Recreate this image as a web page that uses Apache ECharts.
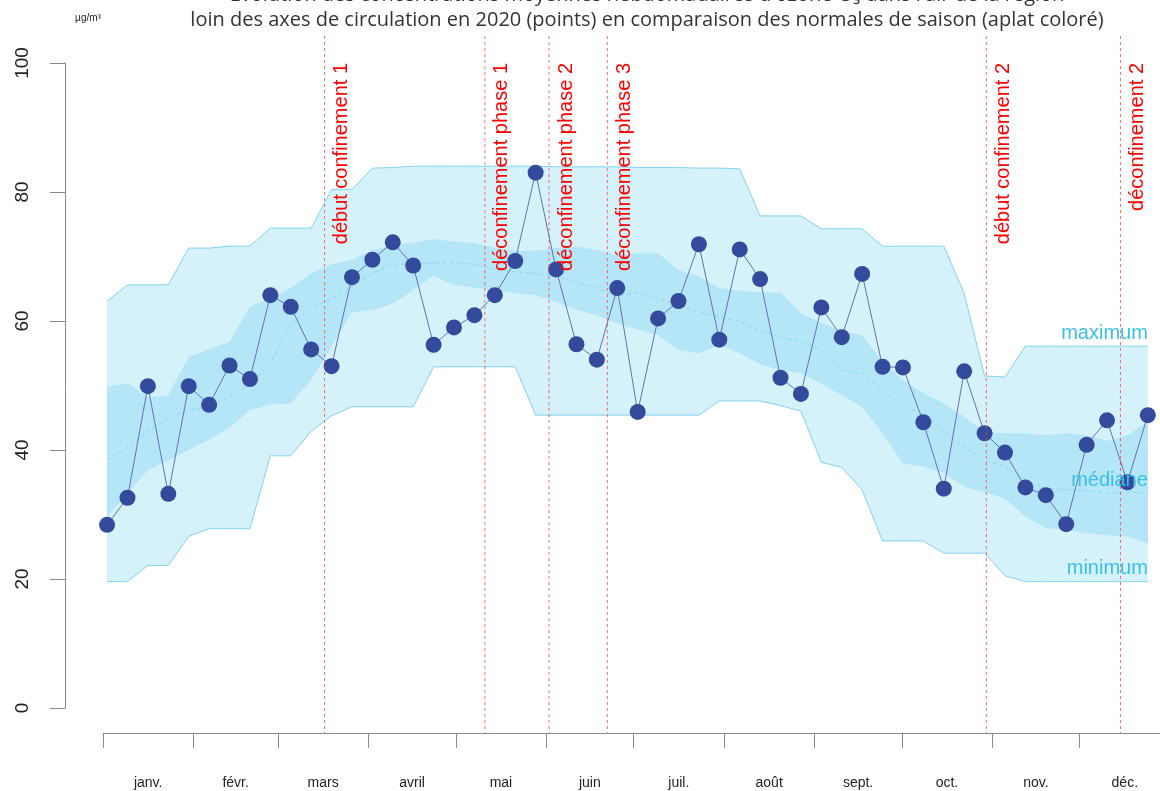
<!DOCTYPE html>
<html><head><meta charset="utf-8">
<script src="https://cdn.jsdelivr.net/npm/echarts@6/dist/echarts.min.js"></script>
<style>html,body{margin:0;padding:0;background:#fff}#c{width:1160px;height:791px}</style>
</head><body><div id="c"></div><script>
// ---------- data ----------
const titleLine1 = "Évolution des concentrations moyennes hebdomadaires d'ozone O₃ dans l'air de la région";
const titleLine2 = "loin des axes de circulation en 2020 (points) en comparaison des normales de saison (aplat coloré)";
const unitLabel = "µg/m³";
const monthNames = ["janv.","févr.","mars","avril","mai","juin","juil.","août","sept.","oct.","nov.","déc."];
const monthStartDays = [0,31,60,91,121,152,182,213,244,274,305,335,366];
const yTicks = [0,20,40,60,80,100];
const weekNumbers = [1,2,3,4,5,6,7,8,9,10,11,12,13,14,15,16,17,18,19,20,21,22,23,24,25,26,
  27,28,29,30,31,32,33,34,35,36,37,38,39,40,41,42,43,44,45,46,47,48,49,50,51,52];
const concentration2020 = [28.4,32.6,49.9,33.2,49.9,47.0,53.1,51.0,64.0,62.2,55.6,53.0,66.8,69.5,72.2,68.6,
  56.3,59.0,60.9,64.0,69.3,83.0,68.0,56.4,54.0,65.1,45.9,60.4,63.1,71.9,57.1,71.1,66.5,51.2,48.7,62.1,
  57.5,67.3,52.9,52.8,44.3,34.0,52.2,42.6,39.6,34.2,33.0,28.5,40.8,44.6,35.0,45.4];
const normalMax = [63.1,65.6,65.6,65.6,71.3,71.3,71.6,71.6,74.4,74.4,74.4,80.4,80.4,83.7,83.8,84.0,84.0,84.0,
  84.0,84.0,84.0,84.0,83.9,83.9,83.9,83.9,83.8,83.8,83.8,83.7,83.7,83.6,76.3,76.3,76.3,74.3,74.3,74.3,
  71.6,71.6,71.6,71.6,64.3,51.5,51.3,56.1,56.1,56.1,56.1,56.1,56.1,56.1];
const normalMin = [19.6,19.6,22.1,22.1,26.6,27.8,27.8,27.8,39.1,39.1,42.9,45.3,46.7,46.7,46.7,46.7,52.9,52.9,
  52.9,52.9,52.9,45.4,45.4,45.4,45.4,45.4,45.4,45.4,45.4,45.4,47.6,47.6,47.6,46.9,46.0,38.1,37.3,33.8,
  25.9,25.9,25.9,24.0,24.0,24.0,20.5,19.6,19.6,19.6,19.6,19.6,19.6,19.6];
const normalHigh = [49.8,50.3,48.2,48.5,54.4,55.6,56.8,62.2,63.5,65.1,67.4,68.8,69.5,71.0,71.8,72.1,72.7,72.3,
  72.1,71.3,70.9,70.9,71.3,71.5,71.0,70.2,70.5,70.5,67.9,66.9,65.1,64.7,64.4,64.4,61.2,59.7,58.4,57.8,
  53.7,50.9,48.8,47.2,45.2,42.7,42.6,42.6,42.3,42.6,42.3,41.4,42.3,44.4];
const normalLow = [29.6,33.3,36.9,38.4,40.0,41.6,43.4,46.2,47.0,47.2,50.9,56.0,61.4,61.7,62.7,64.8,67.0,65.6,
  65.2,64.8,64.3,64.0,63.0,61.7,60.9,59.6,58.7,57.8,55.5,55.0,56.3,55.0,53.3,52.4,51.9,50.3,48.5,46.7,
  42.6,37.9,37.4,36.4,34.3,33.5,32.5,29.7,27.9,27.6,27.1,26.8,26.6,25.5];
const normalMedian = [38.4,40.5,42.9,45.0,46.2,46.7,48.3,50.2,53.4,59.5,62.1,63.4,65.3,67.4,68.8,68.8,69.0,69.0,
  68.8,68.0,67.6,67.4,66.9,66.1,65.1,63.8,64.4,63.5,62.5,61.4,60.7,59.9,58.5,57.5,56.8,55.5,52.4,51.9,
  49.3,46.7,45.7,42.8,40.5,38.4,37.4,35.3,34.1,33.8,33.8,33.3,33.5,33.3];
const eventDays = [76,131,153,173,303,349];
const eventLabels = ["début confinement 1","déconfinement phase 1","déconfinement phase 2",
  "déconfinement phase 3","début confinement 2","déconfinement 2"];
const bandLabels = ["maximum","médiane","minimum"];

// ---------- derived ----------
const weekDays = weekNumbers.map(w => 1.4 + (w - 1) * 7);
const monthMids = monthNames.map((m, i) => (monthStartDays[i] + monthStartDays[i + 1]) / 2);
const pairs = arr => arr.map((v, i) => [weekDays[i], v]);
const FONT = '"Liberation Sans", Arial, sans-serif';

function bandSeries(lo, hi, color, z) {
  return {
    type: 'custom', z: z, silent: true,
    data: [[weekDays[0], lo[0]]],
    renderItem: function (params, api) {
      const pts = [];
      for (let i = 0; i < weekDays.length; i++) pts.push(api.coord([weekDays[i], hi[i]]));
      for (let i = weekDays.length - 1; i >= 0; i--) pts.push(api.coord([weekDays[i], lo[i]]));
      return { type: 'polygon', shape: { points: pts }, style: { fill: color } };
    }
  };
}

const chart = echarts.init(document.getElementById('c'), null, { renderer: 'canvas' });
const lastDay = weekDays[weekDays.length - 1];
const bandLabelValues = [normalMax[normalMax.length - 1], normalMedian[normalMedian.length - 1], normalMin[normalMin.length - 1]];

chart.setOption({
  animation: false,
  backgroundColor: '#ffffff',
  graphic: [
    { type: 'text', x: 647, y: -5, style: { text: titleLine1, font: '20px "Open Sans", sans-serif', fill: '#333', align: 'center', verticalAlign: 'middle' } },
    { type: 'text', x: 647, y: 20, style: { text: titleLine2, font: '20px "Open Sans", sans-serif', fill: '#333', align: 'center', verticalAlign: 'middle' } },
    { type: 'text', x: 88, y: 18, style: { text: unitLabel, font: '10px ' + FONT, fill: '#222', align: 'center', verticalAlign: 'middle' } }
  ],
  grid: { left: 103, width: 1067, top: 63, bottom: 83, outerBoundsMode: 'none', containLabel: false },
  xAxis: {
    type: 'value', min: 0, max: 366, offset: 25,
    axisLine: { show: true, onZero: false, lineStyle: { color: '#8a8a8a', width: 1 } },
    axisTick: { show: true, length: 15, customValues: monthStartDays.slice(0, 12), lineStyle: { color: '#8a8a8a' } },
    axisLabel: {
      customValues: monthMids, margin: 43, color: '#222', fontSize: 14, fontFamily: FONT,
      formatter: v => { const i = monthMids.indexOf(v); return i >= 0 ? monthNames[i] : ''; }
    },
    splitLine: { show: false }
  },
  yAxis: {
    type: 'value', min: yTicks[0], max: yTicks[yTicks.length - 1], interval: 20, offset: 38,
    axisLine: { show: true, onZero: false, lineStyle: { color: '#8a8a8a', width: 1 } },
    axisTick: { show: true, length: 15, lineStyle: { color: '#8a8a8a' } },
    axisLabel: { rotate: 90, margin: 33, color: '#222', fontSize: 19, fontFamily: FONT },
    splitLine: { show: false }
  },
  series: [
    bandSeries(normalMin, normalMax, '#d5f1fa', 1),
    bandSeries(normalLow, normalHigh, '#b4e6f7', 2),
    { type: 'line', z: 3, silent: true, data: pairs(normalMax), symbol: 'none', lineStyle: { color: '#84d3f1', width: 1 } },
    { type: 'line', z: 3, silent: true, data: pairs(normalMin), symbol: 'none', lineStyle: { color: '#84d3f1', width: 1 } },
    { type: 'line', z: 3, silent: true, data: pairs(normalMedian), symbol: 'none', lineStyle: { color: '#8dd7f2', width: 1, type: [4, 3] } },
    {
      type: 'line', z: 5, data: pairs(concentration2020), symbol: 'circle', symbolSize: 16,
      itemStyle: { color: '#344a9c', borderWidth: 0 },
      lineStyle: { color: '#6373ad', width: 1 }
    },
    {
      type: 'custom', z: 6, silent: true,
      data: eventDays.map((d, i) => [d, i]),
      renderItem: function (params, api) {
        const cs = params.coordSys;
        const x = api.coord([api.value(0), 0])[0];
        const label = eventLabels[api.value(1)];
        return {
          type: 'group',
          children: [
            { type: 'line', shape: { x1: x, y1: cs.y - 27, x2: x, y2: cs.y + cs.height + 25 },
              style: { stroke: 'rgba(255,60,60,0.75)', lineWidth: 1, lineDash: [3, 3] } },
            { type: 'text', x: x + 7, y: cs.y, rotation: Math.PI / 2,
              style: { text: label, fill: '#ff0000', font: '20px ' + FONT, align: 'right', verticalAlign: 'top' } }
          ]
        };
      }
    },
    {
      type: 'custom', z: 6, silent: true,
      data: bandLabels.map((n, i) => [lastDay, bandLabelValues[i], i]),
      renderItem: function (params, api) {
        const p = api.coord([api.value(0), api.value(1)]);
        return { type: 'text', x: p[0], y: p[1] - 3,
          style: { text: bandLabels[api.value(2)], fill: '#38bfea', font: '20px ' + FONT, align: 'right', verticalAlign: 'bottom' } };
      }
    }
  ]
});
</script></body></html>
